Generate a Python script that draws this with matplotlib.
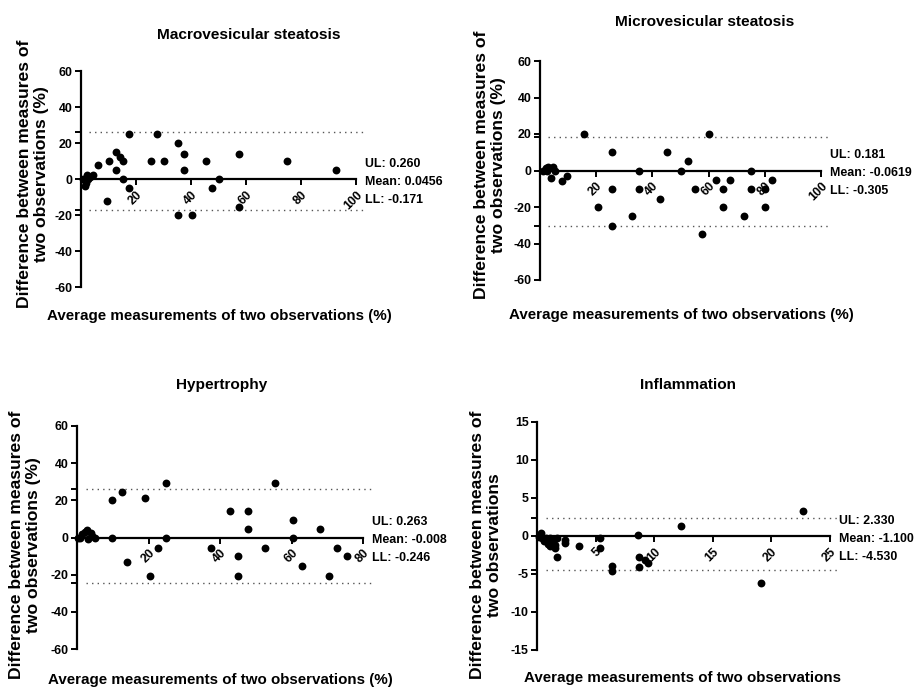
import matplotlib
matplotlib.use('Agg')
import matplotlib.pyplot as plt
from matplotlib import font_manager as fm

plt.rcParams['axes.unicode_minus'] = False

# ---------------- data ----------------
macro_x = [0.6, 1.5, 1.8, 2.3, 2.7, 3.3, 4.5, 6.3, 9.3, 10.3, 12.6, 12.7, 14.0, 15.4, 15.2,
           17.6, 17.6, 25.3, 27.5, 30.2, 35.4, 35.4, 37.5, 37.5, 40.2, 45.3, 47.5, 50.2,
           57.5, 57.5, 75.0, 92.6]
macro_y = [0, -3.7, -2, 2, 0, 1, 2, 8, -12, 10, 15, 5, 12, 10, 0,
           -5, 25, 10, 25, 10, 20, -20, 14, 5, -20, 10, -5, 0,
           14, -15.5, 10, 5]

micro_x = [0.9, 2.1, 3.0, 2.6, 3.8, 4.7, 5.3, 8.0, 9.5, 15.7, 20.5, 25.5, 25.5, 25.5,
           32.9, 35.3, 35.3, 42.7, 45.3, 50.2, 52.8, 55.2, 57.8, 60.3, 62.6, 65.2, 65.2,
           67.6, 72.6, 75.1, 75.1, 80.1, 80.1, 82.4]
micro_y = [0, 1.5, 2, 0, -4, 2, 0, -5.5, -3, 20, -20, 10, -10, -30.5,
           -25, 0, -10, -15.5, 10, 0, 5, -10, -35, 20, -5, -10, -20,
           -5, -25, 0, -10, -10, -20, -5]

hyper_x = [0.3, 0.9, 1.5, 2.2, 2.9, 3.1, 3.8, 4.3, 5.0, 9.9, 9.9, 12.5, 13.9, 19.0, 20.3,
           22.6, 25.0, 25.0, 37.5, 42.8, 45.1, 45.1, 47.8, 47.8, 52.6, 55.3, 60.5, 60.5,
           62.9, 68.0, 70.4, 72.8, 75.5]
hyper_y = [0, 0, 2, 3, 4, -1, 2.5, 1, 0, 20, 0, 24.5, -13, 21.5, -20.5,
           -5.5, 29.5, 0, -5.5, 14.5, -10, -20.5, 14.5, 4.5, -5.5, 29.5, 9.5, 0,
           -15.5, 4.5, -20.5, -5.5, -10]

infl_x = [0.2, 0.3, 0.4, 0.6, 0.8, 0.9, 1.1, 1.1, 1.4, 1.5, 1.5, 1.7, 1.7, 2.4, 2.4,
          3.6, 5.4, 5.4, 6.4, 6.4, 8.6, 8.7, 8.7, 9.2, 9.5, 12.3, 19.1, 22.7]
infl_y = [-0.15, 0.4, -0.3, -0.7, -0.3, -1.0, -0.2, -1.3, -0.7, -1.2, -1.6, -2.8, -0.3, -0.9, -0.5,
          -1.3, -0.3, -1.6, -4.0, -4.6, 0.15, -2.7, -4.1, -3.2, -3.5, 1.35, -6.2, 3.3]

titles = ["Macrovesicular steatosis", "Microvesicular steatosis", "Hypertrophy", "Inflammation"]
xlabels = ["Average measurements of two observations (%)",
           "Average measurements of two observations (%)",
           "Average measurements of two observations (%)",
           "Average measurements of two observations"]
ylabels = ["Difference between measures of\ntwo observations (%)",
           "Difference between measures of\ntwo observations (%)",
           "Difference between measures of\ntwo observations (%)",
           "Difference between measures of\ntwo observations"]
upper_limits = [26.0, 18.1, 26.3, 2.33]
lower_limits = [-17.1, -30.5, -24.6, -4.53]
stat_texts = [["UL: 0.260", "Mean: 0.0456", "LL: -0.171"],
              ["UL: 0.181", "Mean: -0.0619", "LL: -0.305"],
              ["UL: 0.263", "Mean: -0.008", "LL: -0.246"],
              ["UL: 2.330", "Mean: -1.100", "LL: -4.530"]]
xticks_list = [[20, 40, 60, 80, 100], [20, 40, 60, 80, 100], [20, 40, 60, 80], [5, 10, 15, 20, 25]]
yticks_list = [[-60, -40, -20, 0, 20, 40, 60]] * 3 + [[-15, -10, -5, 0, 5, 10, 15]]
xlims = [(0, 100), (0, 100), (0, 80), (0, 25)]
ylims = [(-60, 60), (-60, 60), (-60, 60), (-15, 15)]

xs = [macro_x, micro_x, hyper_x, infl_x]
ys = [macro_y, micro_y, hyper_y, infl_y]

# ---------------- layout (pixels) ----------------
W, H = 917, 689
names = {f.name for f in fm.fontManager.ttflist}
if 'Liberation Sans Narrow' in names:
    HF = ['Liberation Sans Narrow', 'DejaVu Sans']
    k = 1.0
else:
    HF = ['Liberation Sans', 'DejaVu Sans']
    k = 0.85
VF = ['Liberation Sans', 'DejaVu Sans']

# axes boxes: x0, x1, ytop, ybottom
boxes = [(81, 356, 71, 287), (540, 821, 61, 280), (77, 363, 426, 649), (537, 830, 422, 650)]
title_pos = [(249, 35), (705, 22), (222, 385), (688, 385)]
xlabel_pos = [(219, 316), (681, 315), (220, 680), (683, 678)]
ylabel_pos = [(33, 174), (490, 165), (25, 545), (486, 545)]

fig = plt.figure(figsize=(W / 100, H / 100), dpi=100)
fig.patch.set_facecolor('white')

for i in range(4):
    x0, x1, yt, yb = boxes[i]
    ax = fig.add_axes([x0 / W, 1 - yb / H, (x1 - x0) / W, (yb - yt) / H])
    ax.set_facecolor('none')
    ax.scatter(xs[i], ys[i], s=32, color='black', clip_on=False, zorder=3, linewidths=0)
    ax.set_xlim(*xlims[i])
    ax.set_ylim(*ylims[i])
    for s in ['top', 'right']:
        ax.spines[s].set_visible(False)
    ax.spines['bottom'].set_position(('data', 0))
    for s in ['left', 'bottom']:
        ax.spines[s].set_linewidth(1.6)
    yt_ = yticks_list[i]
    ax.set_yticks(yt_)
    ax.set_yticklabels([str(v) for v in yt_], fontfamily=HF, fontweight='bold', fontsize=10.5 * k)
    ax.set_yticks([upper_limits[i], lower_limits[i]], minor=True)
    xt_ = xticks_list[i]
    ax.set_xticks(xt_)
    ax.set_xticklabels([str(v) for v in xt_], fontfamily=HF, fontweight='bold', fontsize=10.5 * k,
                       rotation=45, ha='right', va='top', rotation_mode='anchor')
    ax.tick_params(axis='both', which='both', direction='out', length=4, width=1.4, pad=2)
    ax.tick_params(axis='x', pad=3)
    ax.hlines([upper_limits[i], lower_limits[i]], 0.03, 1.035, transform=ax.get_yaxis_transform(),
              linestyles=(0, (1, 3)), colors='#555555', linewidth=1.0, clip_on=False)
    offs = [11, -2, -15]
    for t, dy in zip(stat_texts[i], offs):
        ax.annotate(t, xy=(1, 0), xycoords=('axes fraction', 'data'), xytext=(6.5, dy),
                    textcoords='offset points', ha='left', va='center',
                    fontfamily=HF, fontweight='bold', fontsize=10.5 * k, annotation_clip=False)

    tx, ty = title_pos[i]
    fig.text(tx / W, 1 - ty / H, titles[i], ha='center', va='center',
             fontfamily=HF, fontweight='bold', fontsize=13 * k)
    lx, ly = xlabel_pos[i]
    fig.text(lx / W, 1 - ly / H, xlabels[i], ha='center', va='center',
             fontfamily=HF, fontweight='bold', fontsize=12.8 * k)
    vx, vy = ylabel_pos[i]
    fig.text(vx / W, 1 - vy / H, ylabels[i], ha='center', va='center', rotation=90,
             multialignment='center', fontfamily=VF, fontweight='bold', fontsize=12.6,
             linespacing=1.15)

fig.savefig('out.png', dpi=100, facecolor='white')
